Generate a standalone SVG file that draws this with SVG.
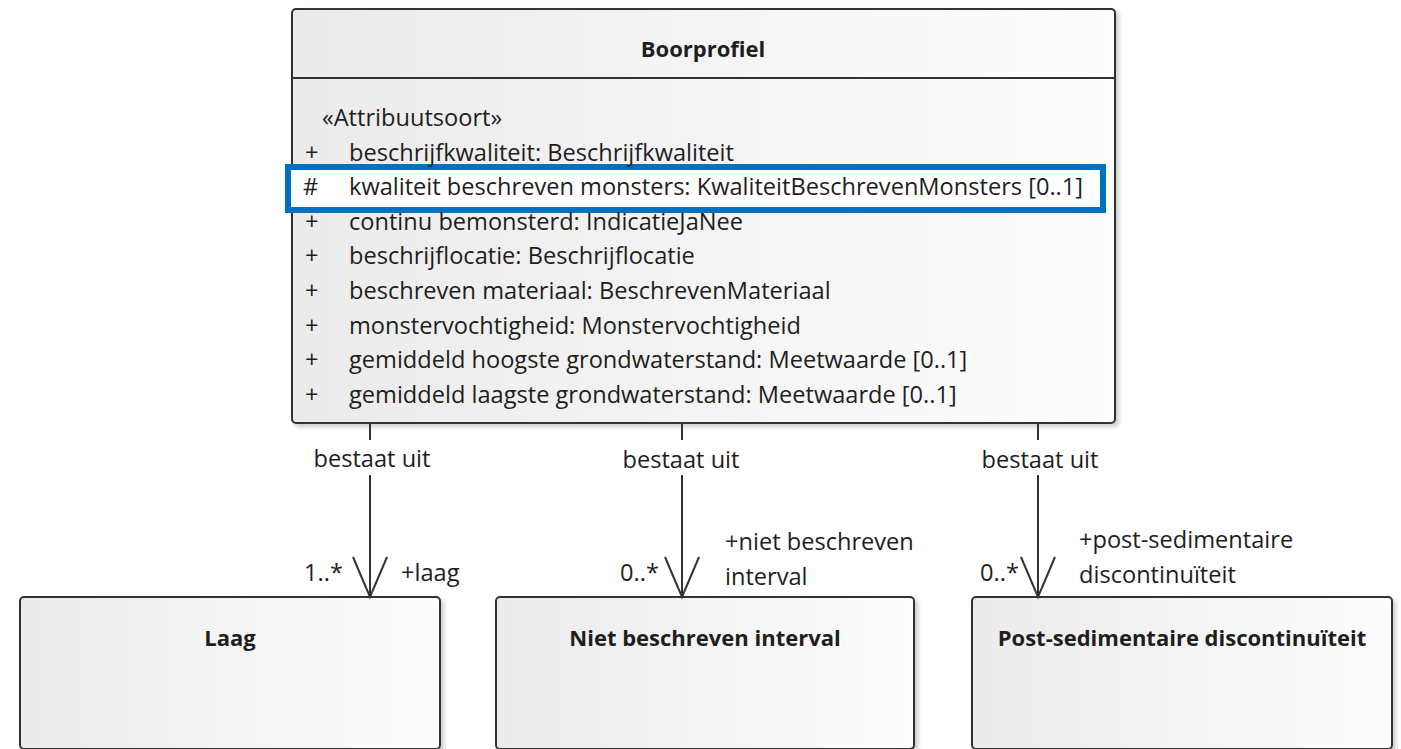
<svg xmlns="http://www.w3.org/2000/svg" width="1401" height="749" viewBox="0 0 1401 749">
<defs>
<linearGradient id="g" x1="0" y1="0" x2="1" y2="0">
<stop offset="0" stop-color="#ebebeb"/>
<stop offset="1" stop-color="#fdfdfd"/>
</linearGradient>
<filter id="sh" x="-5%" y="-5%" width="110%" height="110%">
<feDropShadow dx="3" dy="3" stdDeviation="2" flood-color="#000" flood-opacity="0.2"/>
</filter>
<style>
.box{fill:url(#g);stroke:#333;stroke-width:2;filter:url(#sh)}
.t{font-family:"Open Sans","Noto Sans",sans-serif;font-size:23.6px;fill:#1e1e1e}
.b{font-weight:bold;text-anchor:middle;font-size:22px}
.m{text-anchor:middle}
.e{text-anchor:end}
.ln{stroke:#333;stroke-width:2;fill:none}
</style>
</defs>
<rect width="1401" height="749" fill="#fff"/>
<g id="Boorprofiel">
<rect class="box" x="292" y="9" width="823" height="414" rx="4"/>
<line class="ln" x1="292" y1="78" x2="1115" y2="78"/>
<text class="t b" x="703" y="57">Boorprofiel</text>
<text class="t" x="322" y="126">«Attribuutsoort»</text>
<rect x="288" y="167" width="815" height="43" fill="#fff" stroke="#0070c0" stroke-width="6"/>
<g class="t">
<text x="305" y="160.6">+</text><text x="349" y="160.6">beschrijfkwaliteit: Beschrijfkwaliteit</text>
<text x="303" y="195.2">#</text><text x="349" y="195.2">kwaliteit beschreven monsters: KwaliteitBeschrevenMonsters [0..1]</text>
<text x="305" y="229.8">+</text><text x="349" y="229.8">continu bemonsterd: IndicatieJaNee</text>
<text x="305" y="264.4">+</text><text x="349" y="264.4">beschrijflocatie: Beschrijflocatie</text>
<text x="305" y="299">+</text><text x="349" y="299">beschreven materiaal: BeschrevenMateriaal</text>
<text x="305" y="333.6">+</text><text x="349" y="333.6">monstervochtigheid: Monstervochtigheid</text>
<text x="305" y="368.2">+</text><text x="349" y="368.2">gemiddeld hoogste grondwaterstand: Meetwaarde [0..1]</text>
<text x="305" y="402.8">+</text><text x="349" y="402.8">gemiddeld laagste grondwaterstand: Meetwaarde [0..1]</text>
</g>
</g>
<g id="Laag">
<rect class="box" x="20" y="597" width="420" height="152" rx="4"/>
<text class="t b" x="230" y="646">Laag</text>
</g>
<g id="NietBeschrevenInterval">
<rect class="box" x="496" y="597" width="418" height="152" rx="4"/>
<text class="t b" x="705" y="646">Niet beschreven interval</text>
</g>
<g id="PostSedimentaireDiscontinuiteit">
<rect class="box" x="972" y="597" width="420" height="152" rx="4"/>
<text class="t b" x="1182" y="646">Post-sedimentaire discontinuïteit</text>
</g>
<g id="connectors">
<path class="ln" d="M370 423V440M370 475V597M353 557L370 597L387 557"/>
<path class="ln" d="M682 423V440M682 475V597M665 557L682 597L699 557"/>
<path class="ln" d="M1038 423V440M1038 475V597M1021 557L1038 597L1055 557"/>
<text class="t m" x="372" y="467">bestaat uit</text>
<text class="t m" x="681" y="468">bestaat uit</text>
<text class="t m" x="1040" y="468">bestaat uit</text>
<text class="t e" x="343" y="581">1..*</text>
<text class="t" x="401" y="581">+laag</text>
<text class="t e" x="659" y="581">0..*</text>
<text class="t" x="725" y="550">+niet beschreven</text>
<text class="t" x="725" y="585">interval</text>
<text class="t e" x="1019" y="581">0..*</text>
<text class="t" x="1079" y="548">+post-sedimentaire</text>
<text class="t" x="1079" y="583">discontinuïteit</text>
</g>
</svg>
